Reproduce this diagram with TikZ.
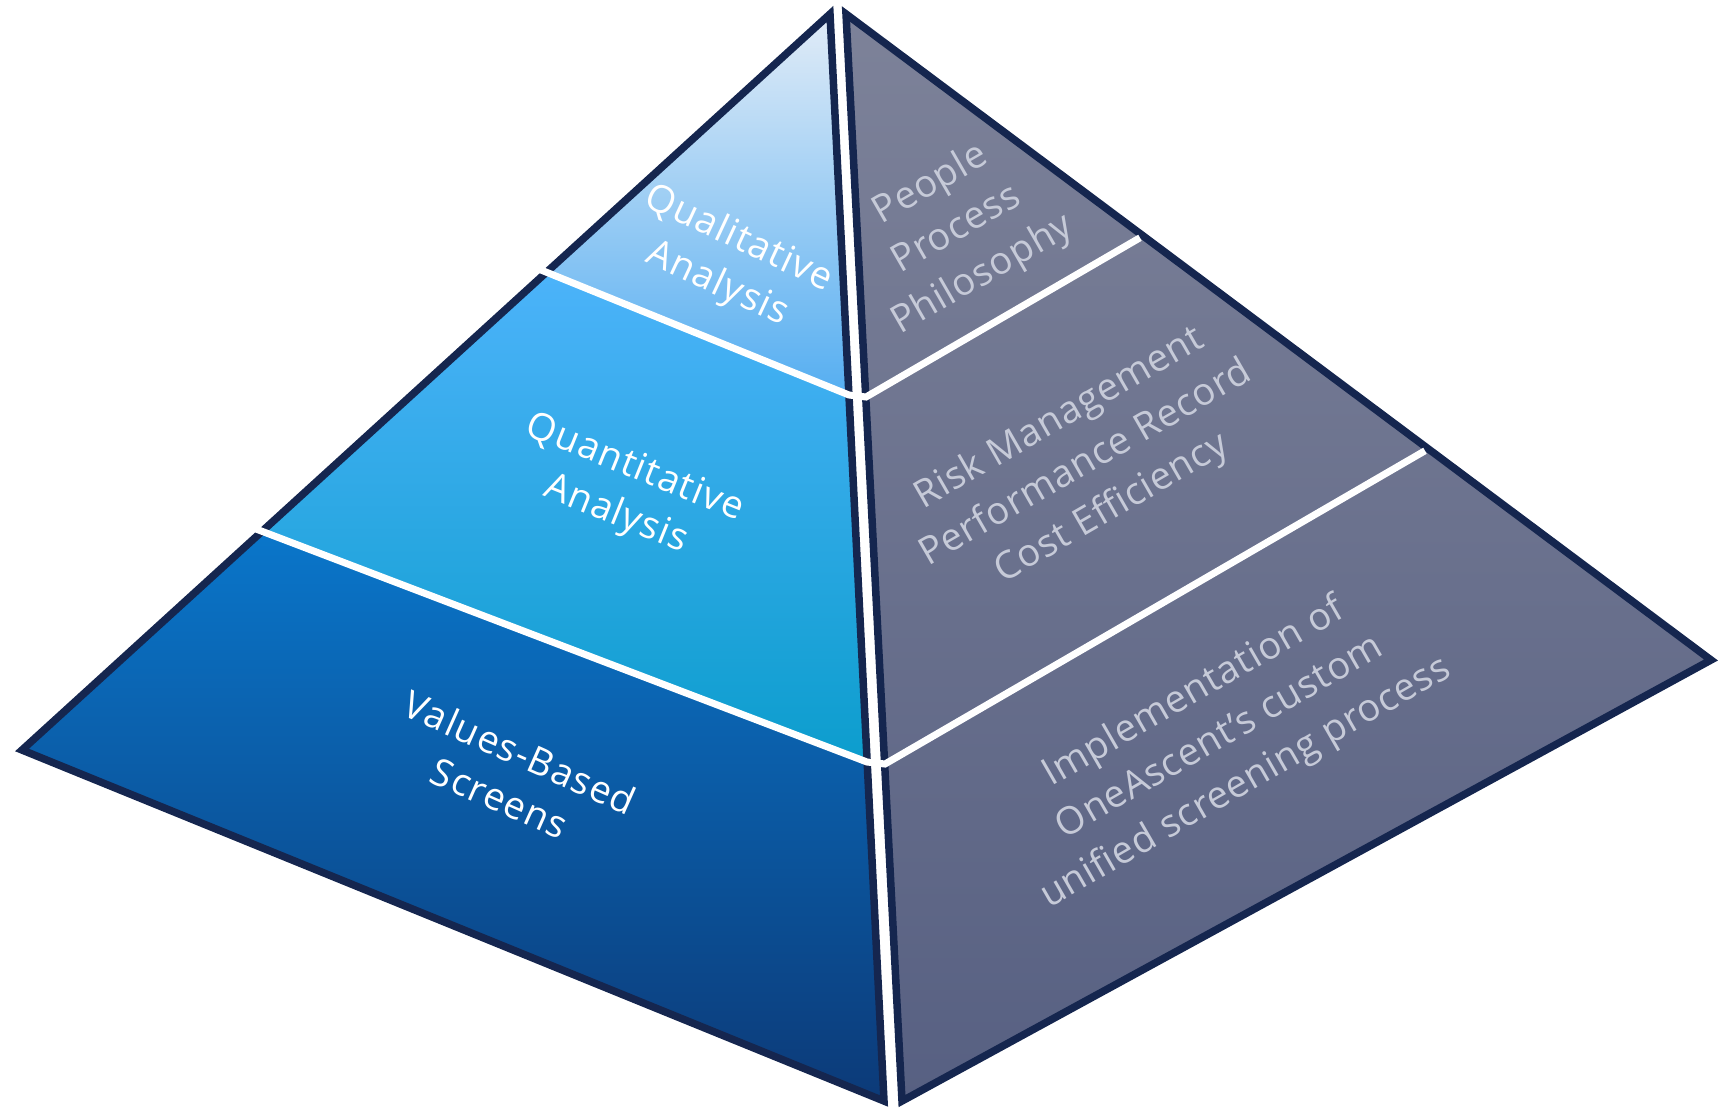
\documentclass[tikz,border=0pt]{standalone}
\usepackage{fontspec}
\setmainfont{Open Sans}
\definecolor{navy}{HTML}{15264F}
\definecolor{graytxt}{HTML}{C6CAD8}
\definecolor{qtop}{HTML}{E2ECF7}
\definecolor{qbot}{HTML}{55AEF1}
\definecolor{mtop}{HTML}{4CB3FA}
\definecolor{mbot}{HTML}{0C9DCD}
\definecolor{btop}{HTML}{0A76CA}
\definecolor{bmid}{HTML}{0A68BC}
\definecolor{bbot}{HTML}{0C3A78}
\definecolor{rtop}{HTML}{7D8299}
\definecolor{rbot}{HTML}{576082}
\begin{document}
\begin{tikzpicture}[x=1pt,y=-1pt,
  edge/.style={draw=navy,line width=7.5pt,line join=miter},
  divider/.style={draw=white,line width=7pt},
  lefttxt/.style={text=white,align=center,font=\fontsize{38}{50}\selectfont\addfontfeatures{LetterSpace=3}},
  righttxt/.style={text=graytxt,align=center,font=\fontsize{38}{52}\selectfont\addfontfeatures{LetterSpace=2}}]
\useasboundingbox (0,0) rectangle (1718,1111);
% left face
\coordinate (L1) at (830,14);
\coordinate (L2) at (22,750);
\coordinate (L3) at (884,1101);
% right face
\coordinate (R1) at (846,14);
\coordinate (R2) at (902,1101);
\coordinate (R3) at (1711,660);
% divider points
\coordinate (P1) at (547,272);
\coordinate (P1e) at (541,270);
\coordinate (Q1) at (849,395);
\coordinate (U1) at (866,397);
\coordinate (V1) at (1143,236);
\coordinate (P2) at (262,531);
\coordinate (P2e) at (256,529);
\coordinate (Q2) at (867,762);
\coordinate (U2) at (885,764);
\coordinate (V2) at (1428,449);
% fills
\begin{scope}
  \clip (L1) -- (P1) -- (Q1) -- cycle;
  \shade[top color=qtop,bottom color=qbot] (0,14) rectangle (900,395);
\end{scope}
\begin{scope}
  \clip (P1) -- (P2) -- (Q2) -- (Q1) -- cycle;
  \shade[top color=mtop,bottom color=mbot] (0,272) rectangle (900,762);
\end{scope}
\begin{scope}
  \clip (P2) -- (L2) -- (L3) -- (Q2) -- cycle;
  \shade[top color=btop,middle color=bmid,bottom color=bbot] (0,531) rectangle (900,1101);
\end{scope}
\begin{scope}
  \clip (R1) -- (R2) -- (R3) -- cycle;
  \shade[top color=rtop,bottom color=rbot] (840,14) rectangle (1718,1101);
\end{scope}
% borders
\draw[edge] (L1) -- (L2) -- (L3) -- cycle;
\draw[edge] (R1) -- (R2) -- (R3) -- cycle;
% dividers
\draw[divider,shorten >=3.5pt] (P1e) -- (Q1) -- (U1) -- (V1);
\draw[divider,shorten >=3.5pt] (P2e) -- (Q2) -- (U2) -- (V2);
% texts
\node[lefttxt,rotate=-25] (qual) at (728,262) {Qualitative\\Analysis};
\node[lefttxt,rotate=-22] (quant) at (625,492) {Quantitative\\Analysis};
\node[lefttxt,rotate=-24] (vals) at (510,775) {Values-Based\\Screens};
\node[righttxt,rotate=30] (ppp) at (957,230) {People\\Process\\Philosophy};
\node[righttxt,rotate=30] (rpc) at (1086,464) {Risk Management\\Performance Record\\Cost Efficiency};
\node[righttxt,rotate=30] (impl) at (1220,738) {Implementation of\\OneAscent’s custom\\unified screening process};
\end{tikzpicture}
\end{document}
